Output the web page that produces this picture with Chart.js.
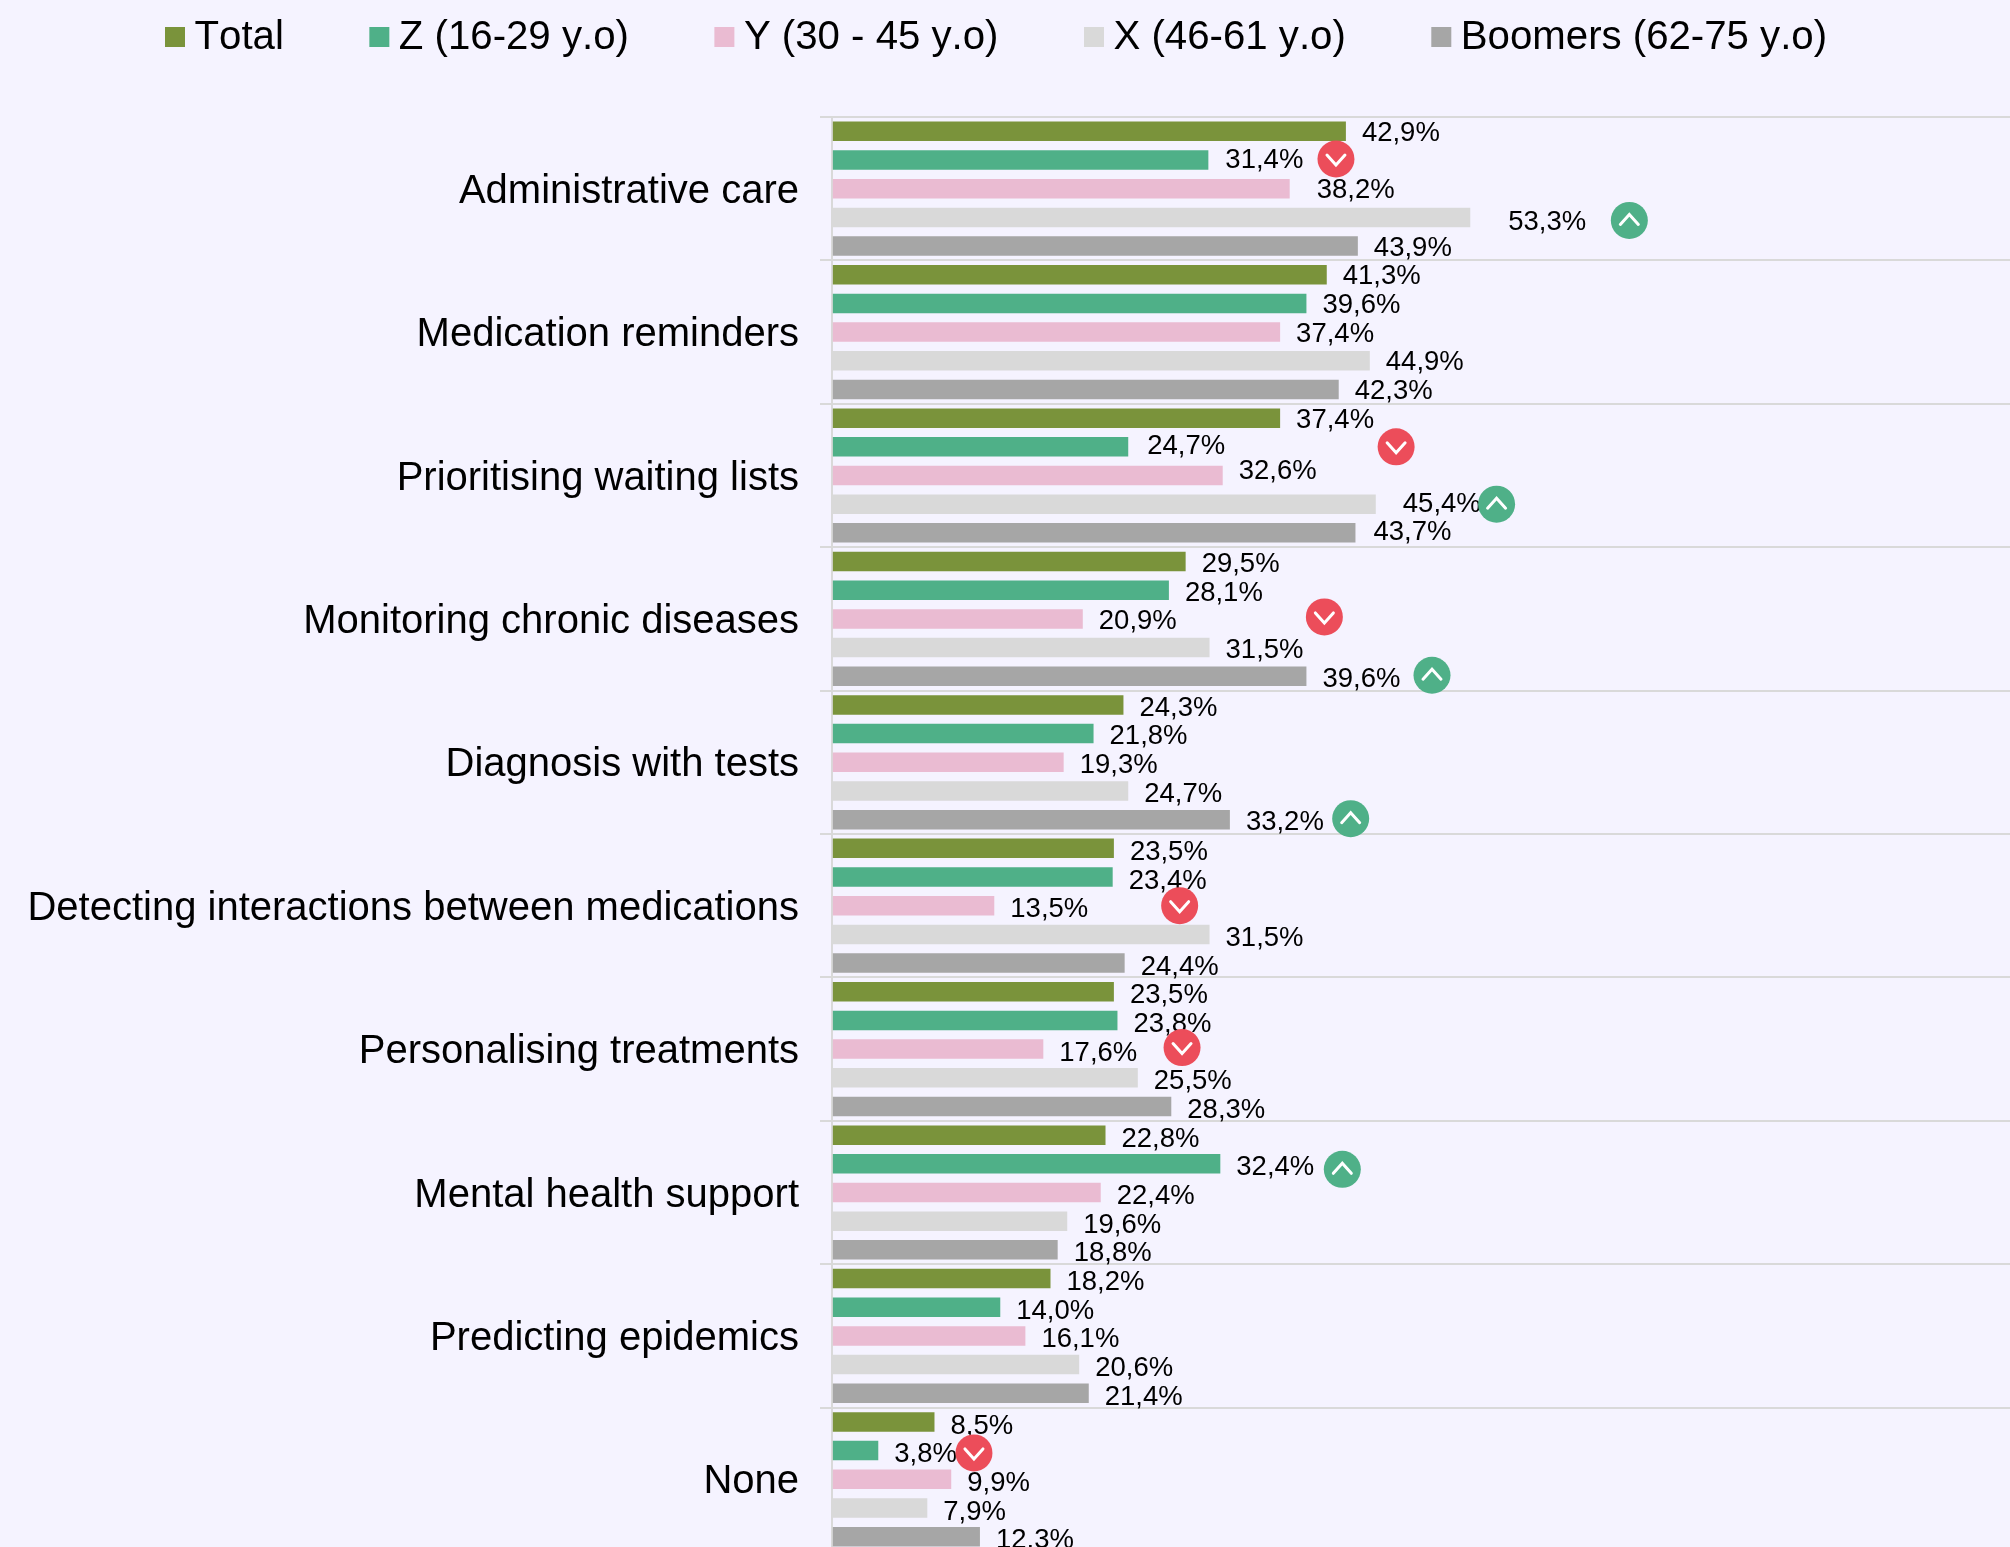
<!DOCTYPE html>
<html><head><meta charset="utf-8">
<style>html,body{margin:0;padding:0;background:#F5F3FF;overflow:hidden}
#w{width:2010px;height:1547px;overflow:hidden;position:relative}canvas{display:block}</style>
<script src="https://cdn.jsdelivr.net/npm/chart.js@4/dist/chart.umd.js"></script>
</head><body><div id="w"><canvas id="c" width="2010" height="1596"></canvas></div>
<script>
const categories = ["Administrative care","Medication reminders","Prioritising waiting lists","Monitoring chronic diseases","Diagnosis with tests","Detecting interactions between medications","Personalising treatments","Mental health support","Predicting epidemics","None"];
const seriesNames = ["Total","Z (16-29 y.o)","Y (30 - 45 y.o)","X (46-61 y.o)","Boomers (62-75 y.o)"];
const total   = [42.9,41.3,37.4,29.5,24.3,23.5,23.5,22.8,18.2,8.5];
const genZ    = [31.4,39.6,24.7,28.1,21.8,23.4,23.8,32.4,14.0,3.8];
const genY    = [38.2,37.4,32.6,20.9,19.3,13.5,17.6,22.4,16.1,9.9];
const genX    = [53.3,44.9,45.4,31.5,24.7,31.5,25.5,19.6,20.6,7.9];
const boomers = [43.9,42.3,43.7,39.6,33.2,24.4,28.3,18.8,21.4,12.3];
const colors  = ["#7A933B","#4FB088","#EABBD2","#D9D9D9","#A6A6A6"];
// significance badges: category index, series index, direction, axis position
const badgeCategory = [0,0,2,2,3,3,4,5,6,7,9];
const badgeSeries   = [1,3,1,3,2,4,4,2,2,1,1];
const badgeUp       = [0,1,0,1,0,1,1,0,0,1,0];
const badgeAxisPos  = [42.07,66.6,47.1,55.5,41.1,50.1,43.3,29.0,29.2,42.6,11.8];
const badgeShiftY   = [-1,3,0,0,-2,-1,-1,0,-1.5,5.5,2.3];
// vertical drop of data labels per category
const labelDrop = [2,2,2,3,3,4,4,4,4,4];
// labels hand-placed away from their default spot: "category:series" -> [dx, dy]
const labelShift = {"0:1":[1,-1.3],"0:2":[11,0],"0:3":[22,2.7],"2:1":[3,-2],"2:2":[0,-6.4],"2:3":[11,-2],"2:4":[2,-2.7]};
const allSeries = [total,genZ,genY,genX,boomers];
const FONT = '"Liberation Sans", Arial, sans-serif';

const overlay = {
  id:'overlay',
  beforeDraw(chart){ chart.ctx.fontKerning='none'; },
  afterDatasetsDraw(chart){
    const ctx = chart.ctx, x = chart.scales.x;
    ctx.save();
    // data labels
    ctx.font = '27.5px '+FONT; ctx.fillStyle='#000'; ctx.textAlign='left'; ctx.textBaseline='middle';
    chart.data.datasets.forEach((ds,s)=>{
      chart.getDatasetMeta(s).data.forEach((bar,c)=>{
        const sh = labelShift[c+':'+s]||[0,0];
        ctx.fillText(ds.data[c].toFixed(1).replace('.',',')+'%', bar.x+16+sh[0], bar.y+labelDrop[c]+sh[1]);
      });
    });
    // badges
    badgeCategory.forEach((c,i)=>{
      const bar = chart.getDatasetMeta(badgeSeries[i]).data[c];
      const cx = x.getPixelForValue(badgeAxisPos[i]), cy = bar.y+badgeShiftY[i];
      const up = badgeUp[i];
      ctx.fillStyle = up ? '#4FB088' : '#EC4D5A';
      ctx.beginPath(); ctx.arc(cx,cy,18.5,0,Math.PI*2); ctx.fill();
      ctx.strokeStyle='#fff'; ctx.lineWidth=3; ctx.lineCap='round'; ctx.lineJoin='miter';
      const d = up ? -1 : 1;
      ctx.beginPath(); ctx.moveTo(cx-9,cy-5*d+d); ctx.lineTo(cx,cy+5*d+d); ctx.lineTo(cx+9,cy-5*d+d); ctx.stroke();
    });
    // legend
    const box = 20, gap = 9.5, pad = 85.5, ly = 37;
    ctx.font = '40.2px '+FONT; ctx.textBaseline='middle';
    let lx = 165;
    chart.data.datasets.forEach(ds=>{
      ctx.fillStyle = ds.backgroundColor;
      ctx.fillRect(lx, ly-10, box, box);
      ctx.fillStyle = '#000';
      ctx.fillText(ds.label, lx+box+gap, ly+1);
      lx += box+gap+ctx.measureText(ds.label).width+pad;
    });
    ctx.restore();
  }
};

new Chart(document.getElementById('c'),{
  type:'bar',
  data:{labels:categories,datasets:seriesNames.map((n,i)=>({label:n,data:allSeries[i],backgroundColor:colors[i],barPercentage:0.68,categoryPercentage:1}))},
  options:{
    indexAxis:'y',responsive:false,animation:false,
    layout:{padding:{top:117,bottom:0,left:0,right:0}},
    plugins:{legend:{display:false},tooltip:{enabled:false}},
    scales:{
      x:{display:false,min:-0.07,max:98.43},
      y:{
        afterFit(s){s.width=832;},
        grid:{offset:true,color:'#D9D9D9',lineWidth:2,tickLength:12,drawTicks:true},
        border:{color:'#D9D9D9',width:2},
        ticks:{color:'#000',padding:21,labelOffset:3,font:{family:FONT,size:40},autoSkip:false}
      }
    }
  },
  plugins:[overlay]
});
</script></body></html>
